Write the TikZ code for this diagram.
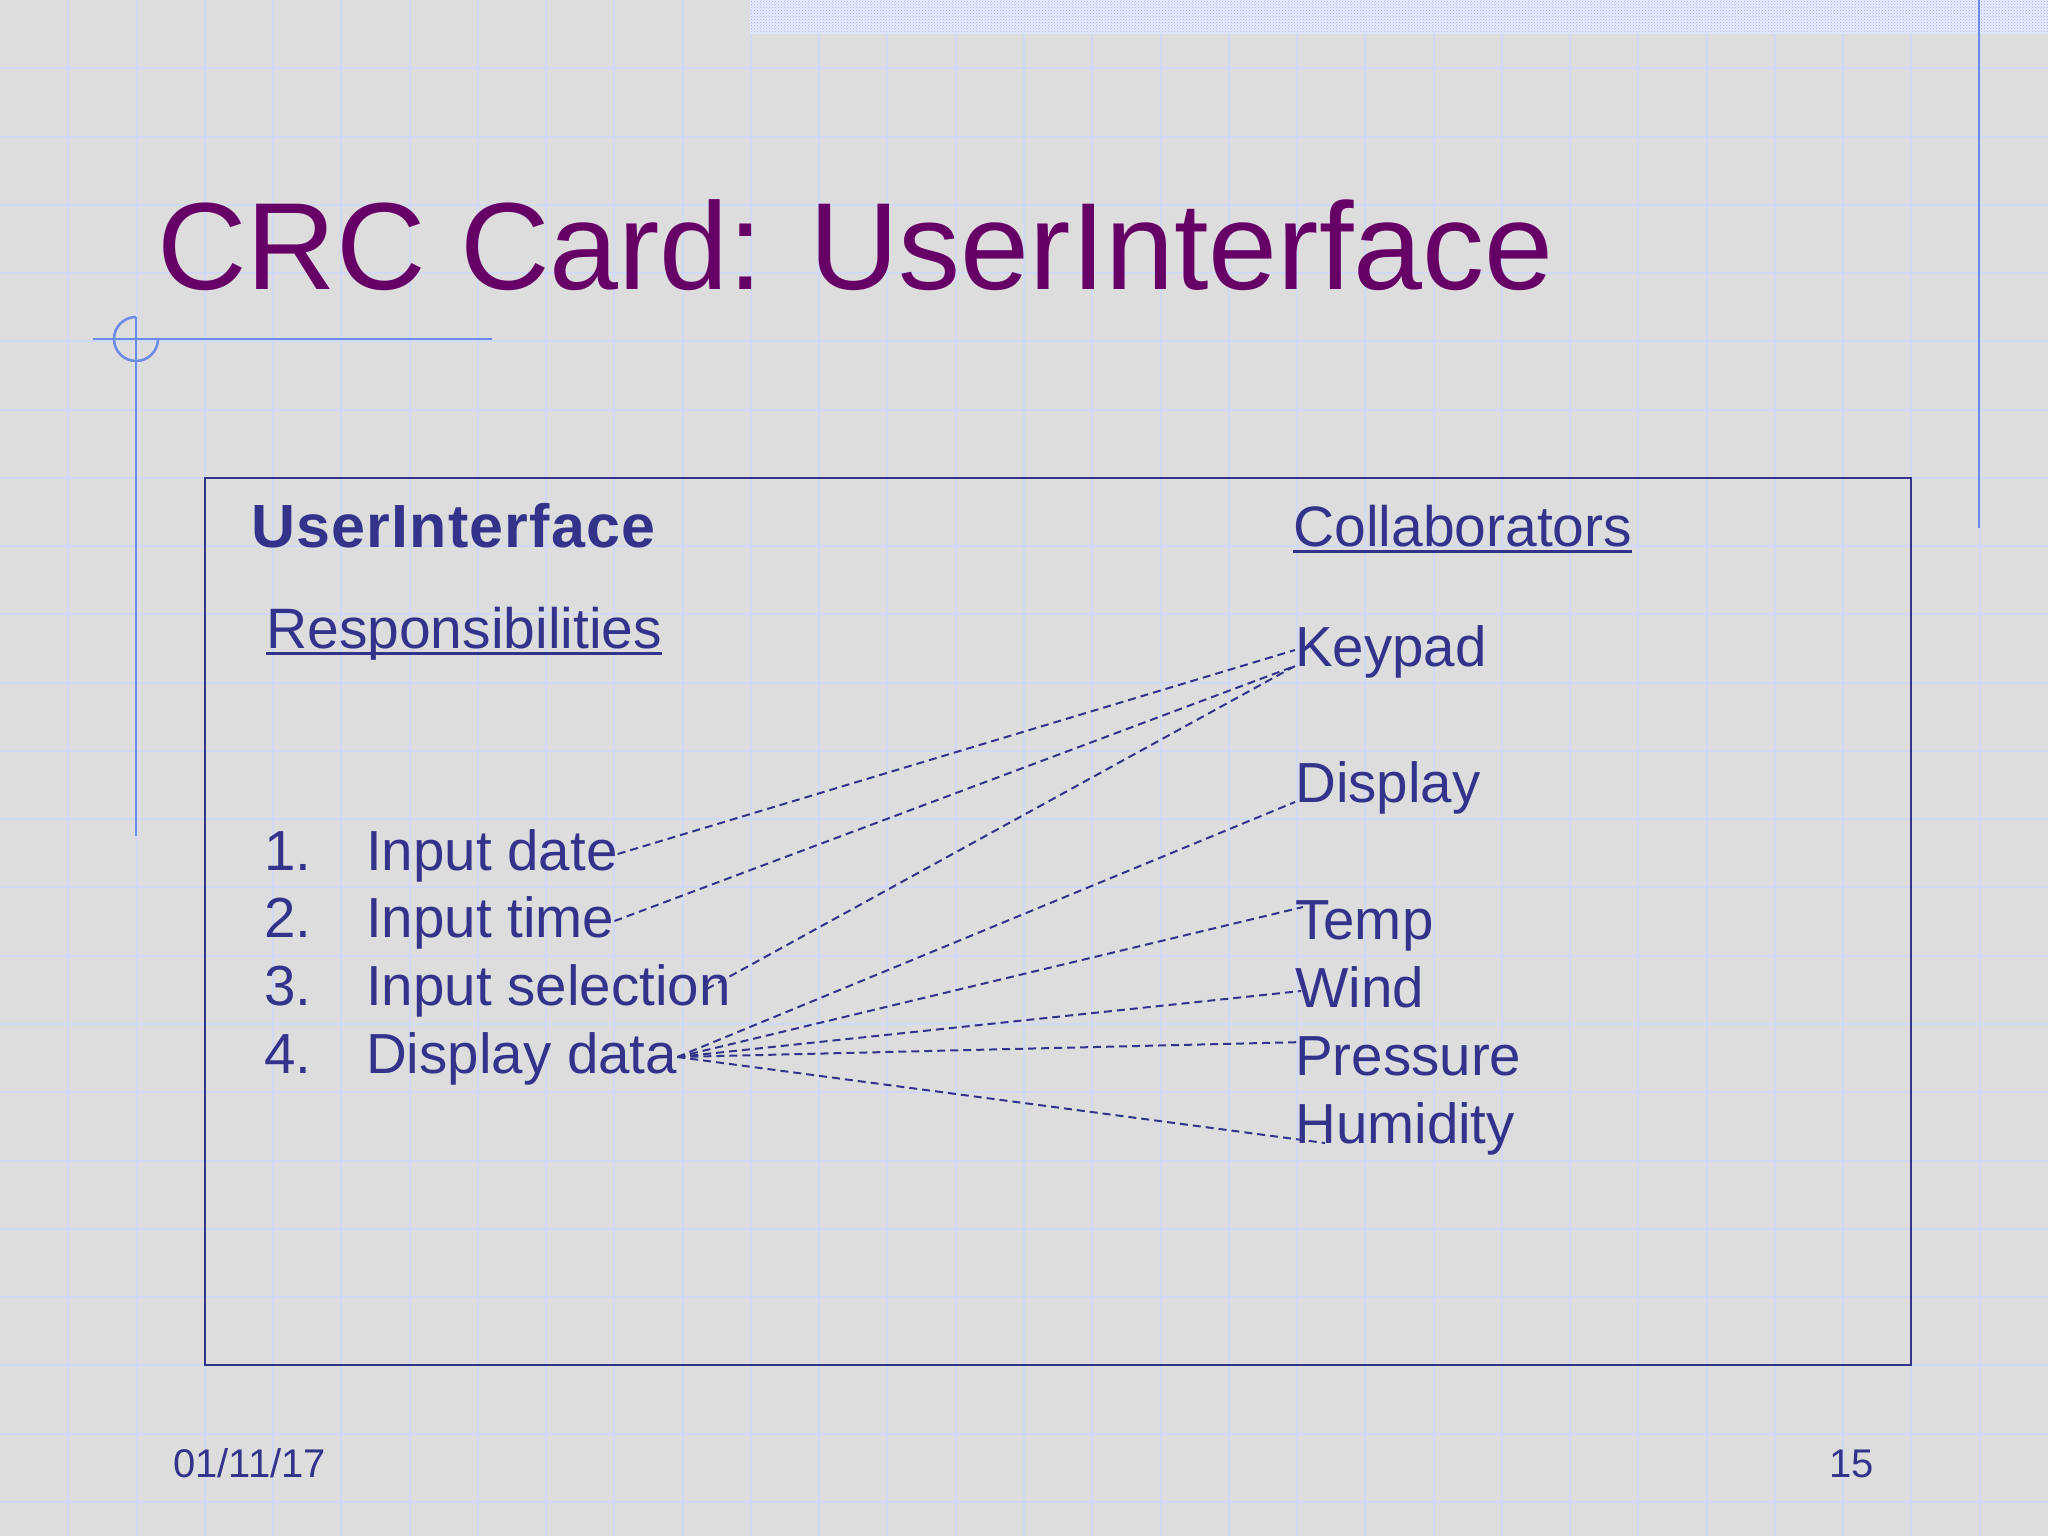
\documentclass[tikz,border=0pt]{standalone}
\usepackage{fontspec}
\setmainfont{Liberation Sans}
\newfontfamily\clsfont[LetterSpace=2]{Liberation Sans}
\usetikzlibrary{patterns}

\definecolor{slidebg}{RGB}{221,221,221}
\definecolor{gridblue}{RGB}{208,218,248}
\definecolor{decoblue}{RGB}{108,138,232}
\definecolor{cardblue}{RGB}{51,51,140}
\definecolor{titlepurple}{RGB}{102,0,102}
\definecolor{stripbg}{RGB}{232,236,252}

\newcommand{\setsize}[1]{\fontsize{#1}{#1}\selectfont}
\newcommand{\ulword}[1]{\setbox0=\hbox{#1}\rlap{\rule[-6.5pt]{\wd0}{3pt}}\box0}

\begin{document}
\begin{tikzpicture}[x=1pt,y=-1pt,
        every node/.style={inner sep=0pt,anchor=base west,text=cardblue},
        item/.style={font={\setsize{56.5}},text height=50pt,text depth=18pt},
        head/.style={font={\setsize{57}}},
        foot/.style={font={\setsize{40}}},
        gridline/.style={draw=gridblue,line width=2pt},
        deco/.style={draw=decoblue,line width=2.5pt},
        link/.style={draw=cardblue,line width=2pt,dash pattern=on 8pt off 5pt}]
        \useasboundingbox (0,0) rectangle (2048,1536);
        \fill[slidebg] (0,0) rectangle (2048,1536);
        % background grid
        \foreach \k in {1,...,29}
                \draw[gridline] (\k*68.267,0) -- (\k*68.267,1536);
        \foreach \k in {1,...,22}
                \draw[gridline] (0,\k*68.267) -- (2048,\k*68.267);
        \fill[stripbg] (750,0) rectangle (2048,34);
        \fill[pattern=crosshatch dots,pattern color=gridblue!80!blue] (750,0) rectangle (2048,34);
        % slide ornaments
        \draw[deco] (93,339) -- (492,339);
        \draw[deco] (136,317) -- (136,836);
        \draw[deco] (136,317) arc[start angle=90,end angle=360,radius=22pt];
        \draw[deco] (1979,0) -- (1979,528);

        \node[font={\setsize{124}},text=titlepurple] (title) at (157,289) {CRC Card: UserInterface};

        \draw[draw=cardblue,line width=2.5pt] (205,478) rectangle (1911,1365);
        \node[font={\setsize{61}\clsfont\bfseries}] (cls) at (251,547) {UserInterface};
        \node[head] (resp) at (266,648) {\ulword{Responsibilities}};
        \node[head] (coll) at (1293,546) {\ulword{Collaborators}};

        \foreach \i/\txt/\y in {1/Input date/870,2/Input time/937,3/Input selection/1005,4/Display data/1073}{
                \node[item] (n\i) at (264,\y) {\i.};
                \node[item] (r\i) at (366,\y) {\txt};
        }
        \foreach \nm/\txt/\y in {keypad/Keypad/666,display/Display/802,temp/Temp/939,
                        wind/Wind/1007,pressure/Pressure/1075,humidity/Humidity/1143}
                \node[item] (\nm) at (1295,\y) {\txt};

        \draw[link] (r1.east) -- (keypad.west);
        \draw[link] (r2.east) -- (keypad.base west);
        \draw[link] ([xshift=-24pt]r3.east) -- (keypad.base west);
        \draw[link] (r4.east) -- (display.base west);
        \draw[link] (r4.east) -- ([xshift=8pt,yshift=16pt]temp.west);
        \draw[link] (r4.east) -- ([xshift=6pt]wind.west);
        \draw[link] (r4.east) -- ([xshift=10pt,yshift=17pt]pressure.west);
        \draw[link] (r4.east) -- ([xshift=30pt]humidity.base west);

        \node[foot] (date) at (173,1477) {01/11/17};
        \node[foot] (page) at (1829,1477) {15};
\end{tikzpicture}
\end{document}
